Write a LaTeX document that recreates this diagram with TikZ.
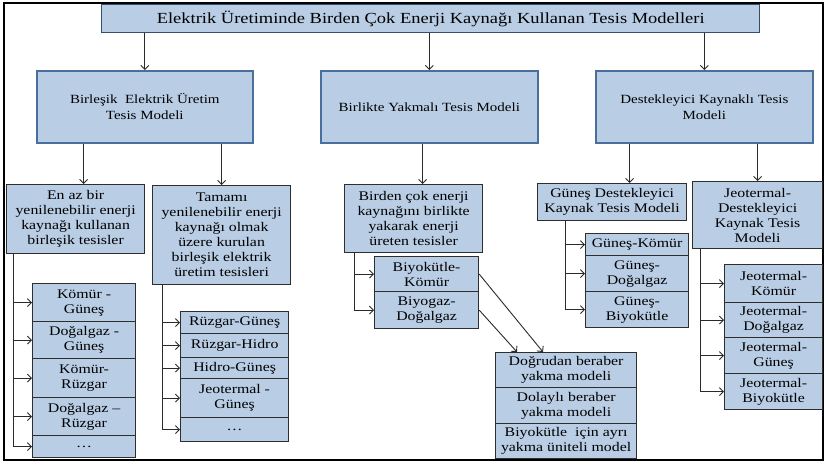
\documentclass[tikz,border=0pt]{standalone}
\usepackage{fontspec}
\setmainfont{Liberation Serif}[FakeStretch=1.2]
\usetikzlibrary{arrows.meta}
\definecolor{boxfill}{HTML}{B9CDE5}
\definecolor{topedge}{HTML}{4A6F9C}
\definecolor{leafedge}{HTML}{2E2E2E}
\definecolor{wire}{HTML}{2A2A2A}
\begin{document}
\begin{tikzpicture}[x=1pt,y=-1pt,
  cell/.style={draw=leafedge, line width=1.2pt, fill=boxfill, align=center,
    inner sep=0pt, anchor=north west, font=\fontsize{13.2}{15}\selectfont},
  headbox/.style={cell, draw=topedge, line width=1.6pt,
    font=\fontsize{12.5}{16}\selectfont},
  titlebox/.style={cell, draw=topedge!70!black, line width=1.4pt,
    font=\fontsize{15.4}{17}\selectfont},
  arr/.style={draw=wire, line width=0.9pt, -{Straight Barb[length=4pt,width=8pt]}},
  trunk/.style={draw=wire, line width=0.9pt}
]
\useasboundingbox (0,0) rectangle (826,466);
\fill[white] (0,0) rectangle (826,466);

% outer frame
\draw[line width=2.4pt] (4,3) rectangle (823,460);

% top level
\node[titlebox, minimum width=658pt, minimum height=28pt] (title) at (101,4)
  {Elektrik Üretiminde Birden Çok Enerji Kaynağı Kullanan Tesis Modelleri};

% three model families
\node[headbox, minimum width=216pt, minimum height=72pt] (b1) at (36,70)
  {Birleşik\ \ Elektrik Üretim\\Tesis Modeli};
\node[headbox, minimum width=217pt, minimum height=72pt] (b2) at (320,70)
  {Birlikte Yakmalı Tesis Modeli};
\node[headbox, minimum width=217pt, minimum height=72pt] (b3) at (595,70)
  {Destekleyici Kaynaklı Tesis\\Modeli};

% sub-models
\node[cell, minimum width=138pt, minimum height=69pt] (c1) at (6,184)
  {En az bir\\yenilenebilir enerji\\kaynağı kullanan\\birleşik tesisler};
\node[cell, minimum width=138pt, minimum height=99pt] (c2) at (152,185)
  {Tamamı\\yenilenebilir enerji\\kaynağı olmak\\üzere kurulan\\birleşik elektrik\\üretim tesisleri};
\node[cell, minimum width=138pt, minimum height=68pt] (c3) at (344,184)
  {Birden çok enerji\\kaynağını birlikte\\yakarak enerji\\üreten tesisler};
\node[cell, minimum width=149pt, minimum height=37pt] (c4) at (537,183)
  {Güneş Destekleyici\\Kaynak Tesis Modeli};
\node[cell, minimum width=130pt, minimum height=67pt] (c5) at (692,181)
  {Jeotermal-\\Destekleyici\\Kaynak Tesis\\Modeli};

% combinations: renewable + conventional
\node[cell, minimum width=103pt, minimum height=38pt] (k1) at (32,283) {Kömür -\\Güneş};
\node[cell, minimum width=103pt, minimum height=37pt] (k2) at (32,321) {Doğalgaz -\\Güneş};
\node[cell, minimum width=103pt, minimum height=39pt] (k3) at (32,358) {Kömür-\\Rüzgar};
\node[cell, minimum width=103pt, minimum height=38pt] (k4) at (32,397) {Doğalgaz –\\Rüzgar};
\node[cell, minimum width=103pt, minimum height=22pt] (k5) at (32,435) {…};

% fully renewable combinations
\node[cell, minimum width=108pt, minimum height=22pt] (r1) at (180,311) {Rüzgar-Güneş};
\node[cell, minimum width=108pt, minimum height=24pt] (r2) at (180,333) {Rüzgar-Hidro};
\node[cell, minimum width=108pt, minimum height=21pt] (r3) at (180,357) {Hidro-Güneş};
\node[cell, minimum width=108pt, minimum height=39pt] (r4) at (180,378) {Jeotermal -\\Güneş};
\node[cell, minimum width=108pt, minimum height=24pt] (r5) at (180,417) {…};

% co-firing pairs
\node[cell, minimum width=104pt, minimum height=35pt] (y1) at (374,256) {Biyokütle-\\Kömür};
\node[cell, minimum width=104pt, minimum height=37pt] (y2) at (374,291) {Biyogaz-\\Doğalgaz};

% co-firing methods
\node[cell, minimum width=141pt, minimum height=35pt] (d1) at (495,352) {Doğrudan beraber\\yakma modeli};
\node[cell, minimum width=141pt, minimum height=36pt] (d2) at (495,387) {Dolaylı beraber\\yakma modeli};
\node[cell, minimum width=141pt, minimum height=35pt] (d3) at (495,423) {Biyokütle\ \ için ayrı\\yakma üniteli model};

% solar supported
\node[cell, minimum width=103pt, minimum height=22pt] (g1) at (585,233) {Güneş-Kömür};
\node[cell, minimum width=103pt, minimum height=36pt] (g2) at (585,255) {Güneş-\\Doğalgaz};
\node[cell, minimum width=103pt, minimum height=36pt] (g3) at (585,291) {Güneş-\\Biyokütle};

% geothermal supported
\node[cell, minimum width=98pt, minimum height=38pt] (j1) at (724,264) {Jeotermal-\\Kömür};
\node[cell, minimum width=98pt, minimum height=35pt] (j2) at (724,302) {Jeotermal-\\Doğalgaz};
\node[cell, minimum width=98pt, minimum height=36pt] (j3) at (724,337) {Jeotermal-\\Güneş};
\node[cell, minimum width=98pt, minimum height=36pt] (j4) at (724,373) {Jeotermal-\\Biyokütle};

% title to families
\foreach \b in {b1,b2,b3}
  \draw[arr] (title.south -| \b.north) -- (\b.north);

% families to sub-models
\coordinate (e1) at ([xshift=8pt]c1.north);
\coordinate (e3) at ([xshift=9pt]c3.north);
\coordinate (e4) at ([xshift=17.5pt]c4.north);
\draw[arr] (e1 |- b1.south) -- (e1);
\draw[arr] (c2.north |- b1.south) -- (c2.north);
\draw[arr] (e3 |- b2.south) -- (e3);
\draw[arr] (e4 |- b3.south) -- (e4);
\draw[arr] (c5.north |- b3.south) -- (c5.north);

% branch trunks
\coordinate (t1) at ([xshift=7pt]c1.south west);
\coordinate (t2) at ([xshift=10pt]c2.south west);
\coordinate (t3) at ([xshift=10pt]c3.south west);
\coordinate (t4) at ([xshift=28pt]c4.south west);
\coordinate (t5) at ([xshift=8pt]c5.south west);

\draw[trunk] (t1) -- (t1 |- k5.west);
\foreach \n in {k1,k2,k3,k4,k5} \draw[arr] (t1 |- \n.west) -- (\n.west);
\draw[trunk] (t2) -- (t2 |- r5.west);
\foreach \n in {r1,r2,r3,r4,r5} \draw[arr] (t2 |- \n.west) -- (\n.west);
\draw[trunk] (t3) -- (t3 |- y2.west);
\foreach \n in {y1,y2} \draw[arr] (t3 |- \n.west) -- (\n.west);
\draw[trunk] (t4) -- (t4 |- g3.west);
\foreach \n in {g1,g2,g3} \draw[arr] (t4 |- \n.west) -- (\n.west);
\draw[trunk] (t5) -- (t5 |- j4.west);
\foreach \n in {j1,j2,j3,j4} \draw[arr] (t5 |- \n.west) -- (\n.west);

% co-firing pairs to methods
\coordinate (m1) at ([xshift=48pt]d1.north west);
\coordinate (m2) at ([xshift=22pt]d1.north west);
\draw[arr] (y1.east) -- (m1);
\draw[arr] (y2.east) -- (m2);
\end{tikzpicture}
\end{document}
